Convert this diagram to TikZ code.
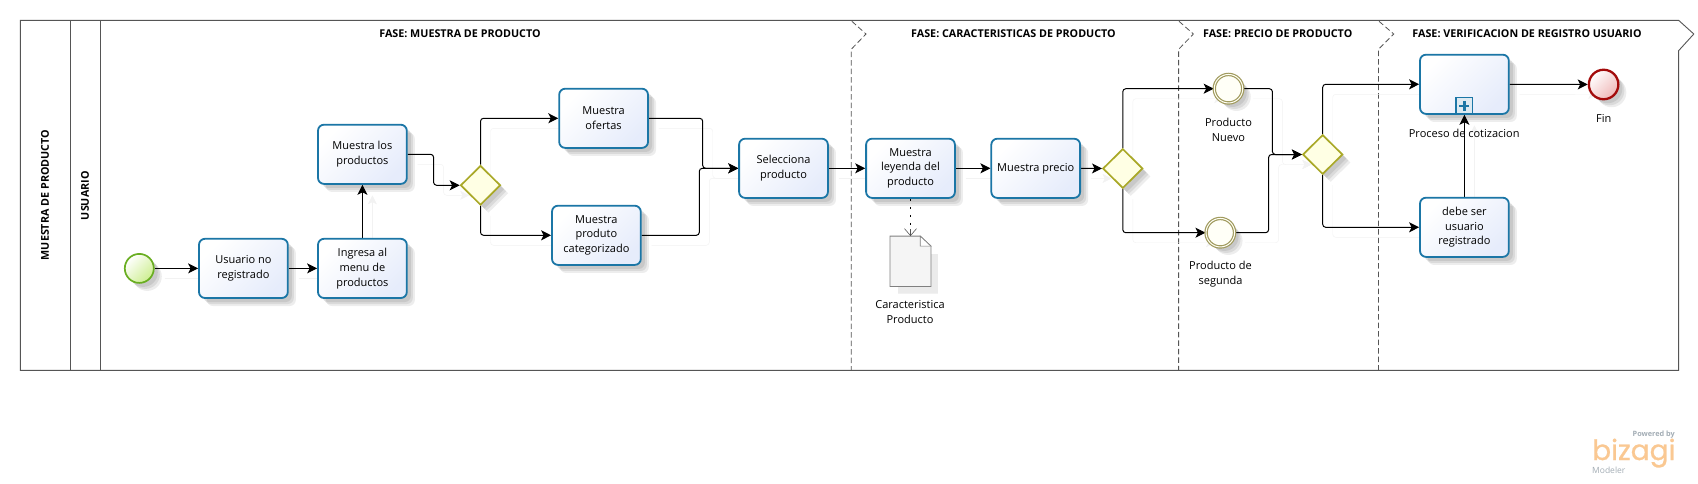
\documentclass[tikz,border=0pt]{standalone}
\usepackage{fontspec}
\setmainfont{Open Sans}
\newfontfamily\logofont[FakeBold=0.8]{Poppins}
\usetikzlibrary{arrows.meta,shapes.geometric,shadows,calc,backgrounds}
\definecolor{taskedge}{HTML}{1B76A6}
\definecolor{taskfill}{HTML}{E6ECFB}
\definecolor{gateedge}{HTML}{A9A827}
\definecolor{gatefill}{HTML}{FFFFE4}
\definecolor{startedge}{HTML}{69AE21}
\definecolor{startfill}{HTML}{CDEE90}
\definecolor{endedge}{HTML}{A30B0B}
\definecolor{endfill}{HTML}{EFB8B8}
\definecolor{midedge}{HTML}{A09A5E}
\definecolor{frameline}{HTML}{555555}
\definecolor{logoorange}{HTML}{FAC892}
\definecolor{logogray}{HTML}{A3ADB5}
\tikzset{
  softshadow/.style={
    general shadow={shadow xshift=4pt,shadow yshift=-4pt,fill=black,opacity=.08},
    general shadow={shadow xshift=6pt,shadow yshift=-6pt,fill=black,opacity=.08},
    general shadow={shadow xshift=8pt,shadow yshift=-8pt,fill=black,opacity=.07}},
  taskbox/.style={rectangle,rounded corners=6pt,draw=taskedge,line width=1.8pt,
    minimum width=88.8pt,minimum height=59.2pt,inner sep=0pt,align=center,softshadow,
    left color=white,right color=taskfill,shading angle=45,
    font=\fontsize{11}{14.8}\selectfont},
  gateway/.style={diamond,draw=gateedge,line width=1.7pt,minimum width=40pt,minimum height=39.5pt,
    inner sep=0pt,fill=gatefill,softshadow},
  startev/.style={circle,draw=startedge,line width=1.7pt,minimum size=29pt,
    inner sep=0pt,softshadow,left color=white,right color=startfill,shading angle=45},
  endev/.style={circle,draw=endedge,line width=2.3pt,minimum size=29.5pt,
    inner sep=0pt,softshadow,left color=white,right color=endfill,shading angle=45},
  midev/.style={circle,draw=midedge,line width=1.2pt,double=gatefill!40!white,double distance=1pt,
    minimum size=28.5pt,inner sep=0pt,fill=gatefill!30!white,softshadow},
  label/.style={inner sep=0pt,align=center,font=\fontsize{11}{15}\selectfont},
  head/.style={inner sep=0pt,font=\fontsize{10.75}{12}\selectfont\bfseries},
  lanehead/.style={inner sep=0pt,rotate=90,font=\fontsize{10.75}{12}\selectfont\bfseries},
  flow/.style={line width=1pt,rounded corners=3pt,-{Stealth[length=10pt,width=10pt,inset=2.5pt]},
    preaction={draw=black!5,transform canvas={xshift=10pt,yshift=-10pt}}},
  assoc/.style={line width=1.5pt,dash pattern=on 2pt off 6pt},
  opentip/.style={draw=frameline,line width=.6pt,-{Straight Barb[length=7pt,width=12pt]}},
  frame/.style={draw=frameline,line width=.9pt},
  phase/.style={draw=frameline,line width=.8pt,dash pattern=on 5.5pt off 3pt},
  docsheet/.style={draw=gray,line width=.8pt,fill=black!4},
}
\begin{document}
\begin{tikzpicture}[x=1pt,y=-1pt]
\useasboundingbox (0,0) rectangle (1698,483);

% tasks
\node[taskbox] (usuario) at (243.4,268.4) {Usuario no\\registrado};
\node[taskbox] (ingresa) at (362.4,268.4) {Ingresa al\\menu de\\productos};
\node[taskbox] (mlos) at (362.4,154.3) {Muestra los\\productos};
\node[taskbox] (ofertas) at (603.6,118.3) {Muestra\\ofertas};
\node[taskbox] (produto) at (596.4,235.3) {Muestra\\produto\\categorizado};
\node[taskbox] (selecciona) at (783.5,168.3) {Selecciona\\producto};
\node[taskbox] (leyenda) at (910.5,168.3) {Muestra\\leyenda del\\producto};
\node[taskbox] (precio) at (1035.7,168.3) {Muestra precio};
\node[taskbox] (proceso) at (1464.4,84.3) {};
\node[taskbox] (debe) at (1464.4,227.3) {debe ser\\usuario\\registrado};
\node[rectangle,draw=taskedge,line width=1.4pt,fill=white!85!taskedge,minimum width=16.5pt,minimum height=16.5pt,inner sep=0pt,anchor=south] (plus) at (proceso.south) {};
\draw[taskedge,line width=2.4pt] ($(plus.center)+(-5,0)$) -- ($(plus.center)+(5,0)$) ($(plus.center)+(0,-5)$) -- ($(plus.center)+(0,5)$);

% gateways
\node[gateway] (g1) at (480.5,185.3) {};
\node[gateway] (g2) at (1122.8,168.5) {};
\node[gateway] (g3) at (1322.7,154.5) {};

% events
\node[startev] (start) at (139.3,268.4) {};
\node[endev] (fin) at (1603.6,84.5) {};
\node[midev] (nuevo) at (1228.5,88.7) {};
\node[midev] (segunda) at (1220.3,232.7) {};

% document
\node[inner sep=0pt,minimum width=40.5pt,minimum height=50pt] (doc) at (910.5,261.3) {};
\fill[black!8] ($(doc.north east)+(0,18)$) -- ($(doc.north east)+(7,18)$) -- ($(doc.south east)+(7,7)$) -- ($(doc.south west)+(8,7)$) -- ($(doc.south west)+(8,0)$) -- (doc.south east) -- cycle;
\draw[docsheet] (doc.north west) -- ($(doc.north east)+(-10.7,0)$) -- ($(doc.north east)+(0,10)$) -- (doc.south east) -- (doc.south west) -- cycle;
\draw[draw=gray,line width=.7pt,fill=white] ($(doc.north east)+(-10.7,0)$) -- ($(doc.north east)+(-10.7,10)$) -- ($(doc.north east)+(0,10)$) -- cycle;

% labels
\node[label] (ldoc) at (910,312.5) {Caracteristica\\Producto};
\node[label] (lnuevo) at (1228.5,129.5) {Producto\\Nuevo};
\node[label] (lsegunda) at (1220.5,273.7) {Producto de\\segunda};
\node[label] (lproceso) at (1464.2,133) {Proceso de cotizacion};
\node[label] (lfin) at (1603.8,118) {Fin};
\node[head] (f1) at (460,34) {FASE: MUESTRA DE PRODUCTO};
\node[head] (f2) at (1013.5,34) {FASE: CARACTERISTICAS DE PRODUCTO};
\node[head] (f3) at (1277.7,34) {FASE: PRECIO DE PRODUCTO};
\node[head] (f4) at (1527,34) {FASE: VERIFICACION DE REGISTRO USUARIO};
\node[lanehead] (pool) at (45,195) {MUESTRA DE PRODUCTO};
\node[lanehead] (lane) at (85,195.7) {USUARIO};

% junction coordinates
\coordinate (j1) at (433.6,170);
\coordinate (j2) at (702.7,150);
\coordinate (j3) at (699.3,200);
\coordinate (j4) at (1272.4,120);
\coordinate (j5) at (1268.6,190);

\begin{scope}[on background layer]
  \fill[white] (0,0) rectangle (1698,483);
  % frames
  \draw[frame] (20.3,20.3) -- (1678.6,20.3) -- (1693.8,34) -- (1678.6,50.7) -- (1678.6,370.3) -- (20.3,370.3) -- cycle;
  \draw[frame] (70.4,20.3) -- (70.4,370.3);
  \draw[frame] (100.3,20.3) -- (100.3,370.3);
  \draw[phase] (851.9,21.3) -- (866,34) -- (851.2,49.3) -- (851.2,370.3);
  \draw[phase] (1179,21.3) -- (1193.4,34) -- (1178.6,49.3) -- (1178.6,370.3);
  \draw[phase] (1379,21.3) -- (1393.7,34) -- (1378.4,49.3) -- (1378.4,370.3);
  % connectors
  \draw[flow] (start) -- (usuario);
  \draw[flow] (usuario) -- (ingresa);
  \draw[flow] (ingresa) -- (mlos);
  \draw[flow] (mlos.east) -| (j1) |- (g1.west);
  \draw[flow] (g1.north) |- (ofertas.west);
  \draw[flow] (g1.south) |- (produto.west);
  \draw[flow] (ofertas.east) -| (j2) |- (selecciona.west);
  \draw[flow] (produto.east) -| (j3) |- (selecciona.west);
  \draw[flow] (selecciona) -- (leyenda);
  \draw[flow] (leyenda) -- (precio);
  \draw[flow] (precio) -- (g2);
  \draw[flow] (g2.north) |- (nuevo.west);
  \draw[flow] (g2.south) |- (segunda.west);
  \draw[flow] (nuevo.east) -| (j4) |- (g3.west);
  \draw[flow] (segunda.east) -| (j5) |- (g3.west);
  \draw[flow] (g3.north) |- (proceso.west);
  \draw[flow] (g3.south) |- (debe.west);
  \draw[flow] (debe) -- (proceso);
  \draw[flow] (proceso) -- (fin);
\end{scope}
\draw[assoc] (leyenda.south) -- ($(doc.north)+(0,-8)$);
\coordinate (docin) at ($(doc.north)+(0,-7)$);
\draw[opentip] (docin) -- (doc.north);

% logo
\node[anchor=base west,inner sep=0pt,text=logoorange,font=\fontsize{28}{28}\logofont\selectfont] (lg) at (1592,460) {bizagi};
\node[anchor=base east,inner sep=0pt,text=logogray,font=\fontsize{7.3}{8}\selectfont\bfseries] (lp) at (1675,436) {Powered by};
\node[anchor=base west,inner sep=0pt,text=logogray,font=\fontsize{8.5}{10}\selectfont] (lm) at (1592,473) {Modeler};
\end{tikzpicture}
\end{document}
